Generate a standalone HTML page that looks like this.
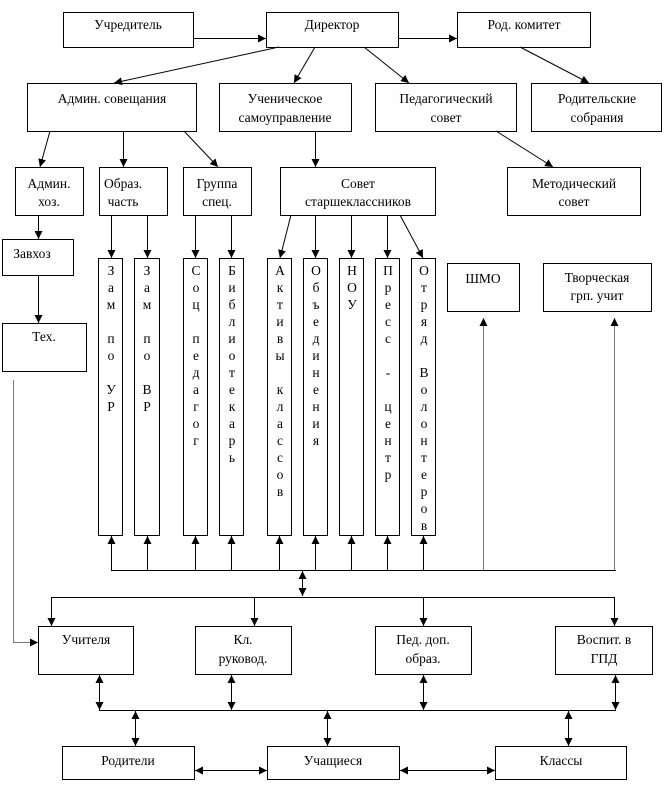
<!DOCTYPE html>
<html><head><meta charset="utf-8"><style>
html,body{margin:0;padding:0;background:#fff}
svg{display:block}
text{font-family:"Liberation Serif","DejaVu Serif",serif;font-size:13.5px;fill:#000}
</style></head><body>
<svg width="666" height="789" viewBox="0 0 666 789" xmlns="http://www.w3.org/2000/svg">
<defs>
<marker id="a" viewBox="0 0 10 10" refX="10" refY="5" markerWidth="8" markerHeight="8" markerUnits="userSpaceOnUse" orient="auto-start-reverse"><path d="M0,0 L10,5 L0,10 z" fill="#000"/></marker>
</defs>
<g fill="#fff" stroke="#000" stroke-width="1">
<rect x="63.5" y="12.5" width="130" height="35"/>
<rect x="266.5" y="12.5" width="132" height="35"/>
<rect x="457.5" y="12.5" width="133" height="35"/>
<rect x="27.5" y="83.5" width="169" height="48"/>
<rect x="219.5" y="83.5" width="132" height="48"/>
<rect x="375.5" y="83.5" width="141" height="48"/>
<rect x="531.5" y="83.5" width="130" height="48"/>
<rect x="15.5" y="167.5" width="68" height="48"/>
<rect x="99.5" y="167.5" width="68" height="48"/>
<rect x="183.5" y="167.5" width="68" height="48"/>
<rect x="280.5" y="167.5" width="155" height="48"/>
<rect x="507.5" y="167.5" width="133" height="48"/>
<rect x="2.5" y="239.5" width="71" height="36"/>
<rect x="2.5" y="323.5" width="84" height="48"/>
<rect x="98.5" y="258.5" width="24" height="277"/>
<rect x="134.5" y="258.5" width="25" height="277"/>
<rect x="183.5" y="258.5" width="24" height="277"/>
<rect x="219.5" y="258.5" width="24" height="277"/>
<rect x="267.5" y="258.5" width="24" height="277"/>
<rect x="303.5" y="258.5" width="24" height="277"/>
<rect x="339.5" y="258.5" width="24" height="277"/>
<rect x="375.5" y="258.5" width="24" height="277"/>
<rect x="411.5" y="258.5" width="24" height="277"/>
<rect x="447.5" y="263.5" width="72" height="48"/>
<rect x="543.5" y="263.5" width="108" height="48"/>
<rect x="38.5" y="626.5" width="95" height="48"/>
<rect x="195.5" y="626.5" width="96" height="48"/>
<rect x="375.5" y="626.5" width="96" height="48"/>
<rect x="555.5" y="626.5" width="97" height="48"/>
<rect x="62.5" y="746.5" width="132" height="33"/>
<rect x="267.5" y="746.5" width="132" height="33"/>
<rect x="495.5" y="746.5" width="131" height="33"/>
</g>
<g stroke="#000" stroke-width="1" fill="none">
<line x1="194" y1="38.5" x2="266" y2="38.5" marker-end="url(#a)"/>
<line x1="398" y1="38.5" x2="457" y2="38.5" marker-end="url(#a)"/>
<line x1="279" y1="47" x2="114" y2="83" marker-end="url(#a)"/>
<line x1="315" y1="47" x2="294" y2="83" marker-end="url(#a)"/>
<line x1="364" y1="47" x2="409" y2="83" marker-end="url(#a)"/>
<line x1="520" y1="47" x2="589" y2="83" marker-end="url(#a)"/>
<line x1="50" y1="131" x2="40" y2="167" marker-end="url(#a)"/>
<line x1="123.5" y1="131" x2="123.5" y2="167" marker-end="url(#a)"/>
<line x1="184" y1="131" x2="218" y2="167" marker-end="url(#a)"/>
<line x1="315.5" y1="131" x2="315.5" y2="167" marker-end="url(#a)"/>
<line x1="496" y1="131" x2="553" y2="167" marker-end="url(#a)"/>
<line x1="38.5" y1="215" x2="38.5" y2="239" marker-end="url(#a)"/>
<line x1="38.5" y1="275" x2="38.5" y2="323" marker-end="url(#a)"/>
<line x1="111.5" y1="215" x2="111.5" y2="258" marker-end="url(#a)"/>
<line x1="147.5" y1="215" x2="147.5" y2="258" marker-end="url(#a)"/>
<line x1="195.5" y1="215" x2="195.5" y2="258" marker-end="url(#a)"/>
<line x1="231.5" y1="215" x2="231.5" y2="258" marker-end="url(#a)"/>
<line x1="291" y1="215" x2="280" y2="258" marker-end="url(#a)"/>
<line x1="315.5" y1="215" x2="315.5" y2="258" marker-end="url(#a)"/>
<line x1="351.5" y1="215" x2="351.5" y2="258" marker-end="url(#a)"/>
<line x1="387.5" y1="215" x2="387.5" y2="258" marker-end="url(#a)"/>
<line x1="400" y1="215" x2="423" y2="258" marker-end="url(#a)"/>
<line x1="111" y1="570.5" x2="616" y2="570.5"/>
<line x1="111.5" y1="570" x2="111.5" y2="536" marker-end="url(#a)"/>
<line x1="147.5" y1="570" x2="147.5" y2="536" marker-end="url(#a)"/>
<line x1="195.5" y1="570" x2="195.5" y2="536" marker-end="url(#a)"/>
<line x1="231.5" y1="570" x2="231.5" y2="536" marker-end="url(#a)"/>
<line x1="279.5" y1="570" x2="279.5" y2="536" marker-end="url(#a)"/>
<line x1="315.5" y1="570" x2="315.5" y2="536" marker-end="url(#a)"/>
<line x1="351.5" y1="570" x2="351.5" y2="536" marker-end="url(#a)"/>
<line x1="387.5" y1="570" x2="387.5" y2="536" marker-end="url(#a)"/>
<line x1="423.5" y1="570" x2="423.5" y2="536" marker-end="url(#a)"/>
<line x1="483.5" y1="570" x2="483.5" y2="318" stroke="#777" marker-end="url(#a)"/>
<line x1="614.5" y1="570" x2="614.5" y2="318" stroke="#777" marker-end="url(#a)"/>
<line x1="302.5" y1="571" x2="302.5" y2="596" marker-start="url(#a)" marker-end="url(#a)"/>
<line x1="51" y1="597.5" x2="615" y2="597.5"/>
<line x1="51.5" y1="597" x2="51.5" y2="626" marker-end="url(#a)"/>
<line x1="254.5" y1="597" x2="254.5" y2="626" marker-end="url(#a)"/>
<line x1="423.5" y1="597" x2="423.5" y2="626" marker-end="url(#a)"/>
<line x1="614.5" y1="597" x2="614.5" y2="626" marker-end="url(#a)"/>
<polyline points="13.5,380 13.5,642.5 38,642.5" stroke="#777" marker-end="url(#a)"/>
<line x1="99" y1="710.5" x2="616" y2="710.5"/>
<line x1="99.5" y1="675" x2="99.5" y2="710" marker-start="url(#a)" marker-end="url(#a)"/>
<line x1="231.5" y1="675" x2="231.5" y2="710" marker-start="url(#a)" marker-end="url(#a)"/>
<line x1="423.5" y1="675" x2="423.5" y2="710" marker-start="url(#a)" marker-end="url(#a)"/>
<line x1="615.5" y1="675" x2="615.5" y2="710" marker-start="url(#a)" marker-end="url(#a)"/>
<line x1="135.5" y1="711" x2="135.5" y2="746" marker-start="url(#a)" marker-end="url(#a)"/>
<line x1="327.5" y1="711" x2="327.5" y2="746" marker-start="url(#a)" marker-end="url(#a)"/>
<line x1="568.5" y1="711" x2="568.5" y2="746" marker-start="url(#a)" marker-end="url(#a)"/>
<line x1="195" y1="770.5" x2="267" y2="770.5" marker-start="url(#a)" marker-end="url(#a)"/>
<line x1="400" y1="770.5" x2="495" y2="770.5" marker-start="url(#a)" marker-end="url(#a)"/>
</g>
<g text-anchor="middle">
<text x="128" y="29">Учредитель</text>
<text x="332" y="29">Директор</text>
<text x="524" y="29">Род. комитет</text>
<text x="112" y="103">Админ. совещания</text>
<text x="285" y="103">Ученическое</text><text x="285" y="122">самоуправление</text>
<text x="446" y="103">Педагогический</text><text x="446" y="122">совет</text>
<text x="597" y="103">Родительские</text><text x="597" y="122">собрания</text>
<text x="49" y="188">Админ.</text><text x="49" y="206">хоз.</text>
<text x="123" y="188">Образ.</text><text x="123" y="206">часть</text>
<text x="217" y="188">Группа</text><text x="217" y="206">спец.</text>
<text x="358" y="188">Совет</text><text x="358" y="206">старшеклассников</text>
<text x="574" y="188">Методический</text><text x="574" y="206">совет</text>
<text x="32" y="258">Завхоз</text>
<text x="44" y="341">Тех.</text>
<text x="483" y="283">ШМО</text>
<text x="597" y="282">Творческая</text><text x="597" y="300">грп. учит</text>
<text x="86" y="644">Учителя</text>
<text x="243" y="644">Кл.</text><text x="243" y="663">руковод.</text>
<text x="423" y="644">Пед. доп.</text><text x="423" y="663">образ.</text>
<text x="604" y="644">Воспит. в</text><text x="604" y="663">ГПД</text>
<text x="128" y="765">Родители</text>
<text x="333" y="765">Учащиеся</text>
<text x="561" y="765">Классы</text>
</g>
<g text-anchor="middle" font-size="13.5">
<text x="111" y="275"><tspan x="111" dy="0">З</tspan><tspan x="111" dy="17">а</tspan><tspan x="111" dy="17">м</tspan><tspan x="111" dy="34">п</tspan><tspan x="111" dy="17">о</tspan><tspan x="111" dy="34">У</tspan><tspan x="111" dy="17">Р</tspan></text>
<text x="147" y="275"><tspan x="147" dy="0">З</tspan><tspan x="147" dy="17">а</tspan><tspan x="147" dy="17">м</tspan><tspan x="147" dy="34">п</tspan><tspan x="147" dy="17">о</tspan><tspan x="147" dy="34">В</tspan><tspan x="147" dy="17">Р</tspan></text>
<text x="196" y="275"><tspan x="196" dy="0">С</tspan><tspan x="196" dy="17">о</tspan><tspan x="196" dy="17">ц</tspan><tspan x="196" dy="34">п</tspan><tspan x="196" dy="17">е</tspan><tspan x="196" dy="17">д</tspan><tspan x="196" dy="17">а</tspan><tspan x="196" dy="17">г</tspan><tspan x="196" dy="17">о</tspan><tspan x="196" dy="17">г</tspan></text>
<text x="232" y="275"><tspan x="232" dy="0">Б</tspan><tspan x="232" dy="17">и</tspan><tspan x="232" dy="17">б</tspan><tspan x="232" dy="17">л</tspan><tspan x="232" dy="17">и</tspan><tspan x="232" dy="17">о</tspan><tspan x="232" dy="17">т</tspan><tspan x="232" dy="17">е</tspan><tspan x="232" dy="17">к</tspan><tspan x="232" dy="17">а</tspan><tspan x="232" dy="17">р</tspan><tspan x="232" dy="17">ь</tspan></text>
<text x="280" y="275"><tspan x="280" dy="0">А</tspan><tspan x="280" dy="17">к</tspan><tspan x="280" dy="17">т</tspan><tspan x="280" dy="17">и</tspan><tspan x="280" dy="17">в</tspan><tspan x="280" dy="17">ы</tspan><tspan x="280" dy="34">к</tspan><tspan x="280" dy="17">л</tspan><tspan x="280" dy="17">а</tspan><tspan x="280" dy="17">с</tspan><tspan x="280" dy="17">с</tspan><tspan x="280" dy="17">о</tspan><tspan x="280" dy="17">в</tspan></text>
<text x="316" y="275"><tspan x="316" dy="0">О</tspan><tspan x="316" dy="17">б</tspan><tspan x="316" dy="17">ъ</tspan><tspan x="316" dy="17">е</tspan><tspan x="316" dy="17">д</tspan><tspan x="316" dy="17">и</tspan><tspan x="316" dy="17">н</tspan><tspan x="316" dy="17">е</tspan><tspan x="316" dy="17">н</tspan><tspan x="316" dy="17">и</tspan><tspan x="316" dy="17">я</tspan></text>
<text x="352" y="275"><tspan x="352" dy="0">Н</tspan><tspan x="352" dy="17">О</tspan><tspan x="352" dy="17">У</tspan></text>
<text x="388" y="275"><tspan x="388" dy="0">П</tspan><tspan x="388" dy="17">р</tspan><tspan x="388" dy="17">е</tspan><tspan x="388" dy="17">с</tspan><tspan x="388" dy="17">с</tspan><tspan x="388" dy="34">-</tspan><tspan x="388" dy="34">ц</tspan><tspan x="388" dy="17">е</tspan><tspan x="388" dy="17">н</tspan><tspan x="388" dy="17">т</tspan><tspan x="388" dy="17">р</tspan></text>
<text x="424" y="275"><tspan x="424" dy="0">О</tspan><tspan x="424" dy="17">т</tspan><tspan x="424" dy="17">р</tspan><tspan x="424" dy="17">я</tspan><tspan x="424" dy="17">д</tspan><tspan x="424" dy="34">В</tspan><tspan x="424" dy="17">о</tspan><tspan x="424" dy="17">л</tspan><tspan x="424" dy="17">о</tspan><tspan x="424" dy="17">н</tspan><tspan x="424" dy="17">т</tspan><tspan x="424" dy="17">е</tspan><tspan x="424" dy="17">р</tspan><tspan x="424" dy="17">о</tspan><tspan x="424" dy="17">в</tspan></text>
</g>
</svg>
</body></html>
